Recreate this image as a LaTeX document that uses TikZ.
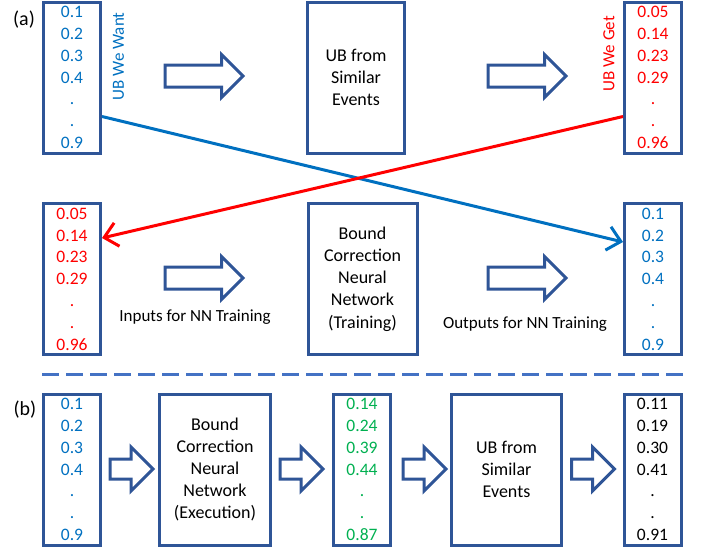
\documentclass[tikz,border=0pt]{standalone}
\usepackage{fontspec}
\setmainfont{Carlito}
\usetikzlibrary{shapes}
\usetikzlibrary{arrows.meta}

\definecolor{boxblue}{HTML}{2F5597}
\definecolor{ubblue}{HTML}{0070C0}
\definecolor{ubred}{HTML}{FF0000}
\definecolor{ubgreen}{HTML}{00B050}
\definecolor{dashblue}{HTML}{4472C4}

\begin{document}
\begin{tikzpicture}[x=1pt,y=-1pt]
					\tikzstyle{col}=[draw=boxblue,line width=3pt,minimum width=57pt,minimum height=151pt,inner sep=0pt,align=center,font=\fontsize{17.5}{21.8}\selectfont]
					\tikzstyle{stage}=[draw=boxblue,line width=3pt,minimum height=151pt,align=center,font=\fontsize{18}{22.2}\selectfont]
					\tikzstyle{bigarrow}=[single arrow,draw=boxblue,line width=3pt,inner xsep=0pt,inner ysep=9.5pt,minimum height=78pt,single arrow head extend=10.5pt]
					\tikzstyle{smallarrow}=[bigarrow,minimum height=43pt,inner ysep=8.5pt,single arrow head extend=12pt]
					\tikzstyle{tag}=[font=\fontsize{17}{20}\selectfont]
					\tikzstyle{part}=[font=\fontsize{20}{24}\selectfont]
					\tikzstyle{cross}=[line width=3pt,-{Straight Barb[length=13pt,width=24pt]}]
					
					\useasboundingbox (0,0) rectangle (703,554);
					
					\node[part] (tagA) at (24,20) {(a)};
					\node[col,text=ubblue] (wantA) at (72,77.5) {0.1\\0.2\\0.3\\0.4\\.\\.\\0.9};
					\node[tag,text=ubblue,rotate=90] (wantlbl) at (118.5,56.5) {UB We Want};
					\node[bigarrow,anchor=tail] (arrA1) at (163.5,76) {};
					\node[stage,minimum width=97pt] (simA) at (356,77.5) {UB from\\Similar\\Events};
					\node[bigarrow,anchor=tail] (arrA2) at (486.5,76) {};
					\node[tag,text=ubred,rotate=90] (getlbl) at (609,54) {UB We Get};
					\node[col,text=ubred] (getA) at (653,77.5) {0.05\\0.14\\0.23\\0.29\\.\\.\\0.96};
					
					\node[col,text=ubred] (getB) at (72,279) {0.05\\0.14\\0.23\\0.29\\.\\.\\0.96};
					\node[bigarrow,anchor=tail] (arrB1) at (163.5,278) {};
					\node[tag] (inlbl) at (195,317) {Inputs for NN Training};
					\node[stage,minimum width=109pt] (nnTrain) at (362.5,279) {Bound\\Correction\\Neural\\Network\\(Training)};
					\node[bigarrow,anchor=tail] (arrB2) at (486.5,278) {};
					\node[tag] (outlbl) at (525,324) {Outputs for NN Training};
					\node[col,text=ubblue] (wantB) at (653,279) {0.1\\0.2\\0.3\\0.4\\.\\.\\0.9};
					
					\draw[cross,ubblue] ([yshift=-39pt]wantA.east) -- ([yshift=37pt]wantB.west);
					\draw[cross,ubred] ([yshift=-39pt]getA.west) -- ([yshift=41pt]getB.east);
					
					\coordinate (dashL) at (42,374);
					\coordinate (dashR) at (683,374);
					\draw[dashblue,line width=3pt,dash pattern=on 17pt off 7pt] (dashL) -- (dashR);
					
					\node[part] (tagB) at (25,410) {(b)};
					\node[col,text=ubblue] (inB) at (72,469.5) {0.1\\0.2\\0.3\\0.4\\.\\.\\0.9};
					\node[smallarrow,anchor=tail] (arrC1) at (108.5,469) {};
					\node[stage,minimum width=111pt] (nnExec) at (215,469.5) {Bound\\Correction\\Neural\\Network\\(Execution)};
					\node[smallarrow,anchor=tail] (arrC2) at (278.5,469) {};
					\node[col,text=ubgreen] (outB) at (362,469.5) {0.14\\0.24\\0.39\\0.44\\.\\.\\0.87};
					\node[smallarrow,anchor=tail] (arrC3) at (401.5,469) {};
					\node[stage,minimum width=110pt] (simB) at (506.5,469.5) {UB from\\Similar\\Events};
					\node[smallarrow,anchor=tail] (arrC4) at (570,469) {};
					\node[col] (finB) at (652.5,469.5) {0.11\\0.19\\0.30\\0.41\\.\\.\\0.91};
\end{tikzpicture}
\end{document}
